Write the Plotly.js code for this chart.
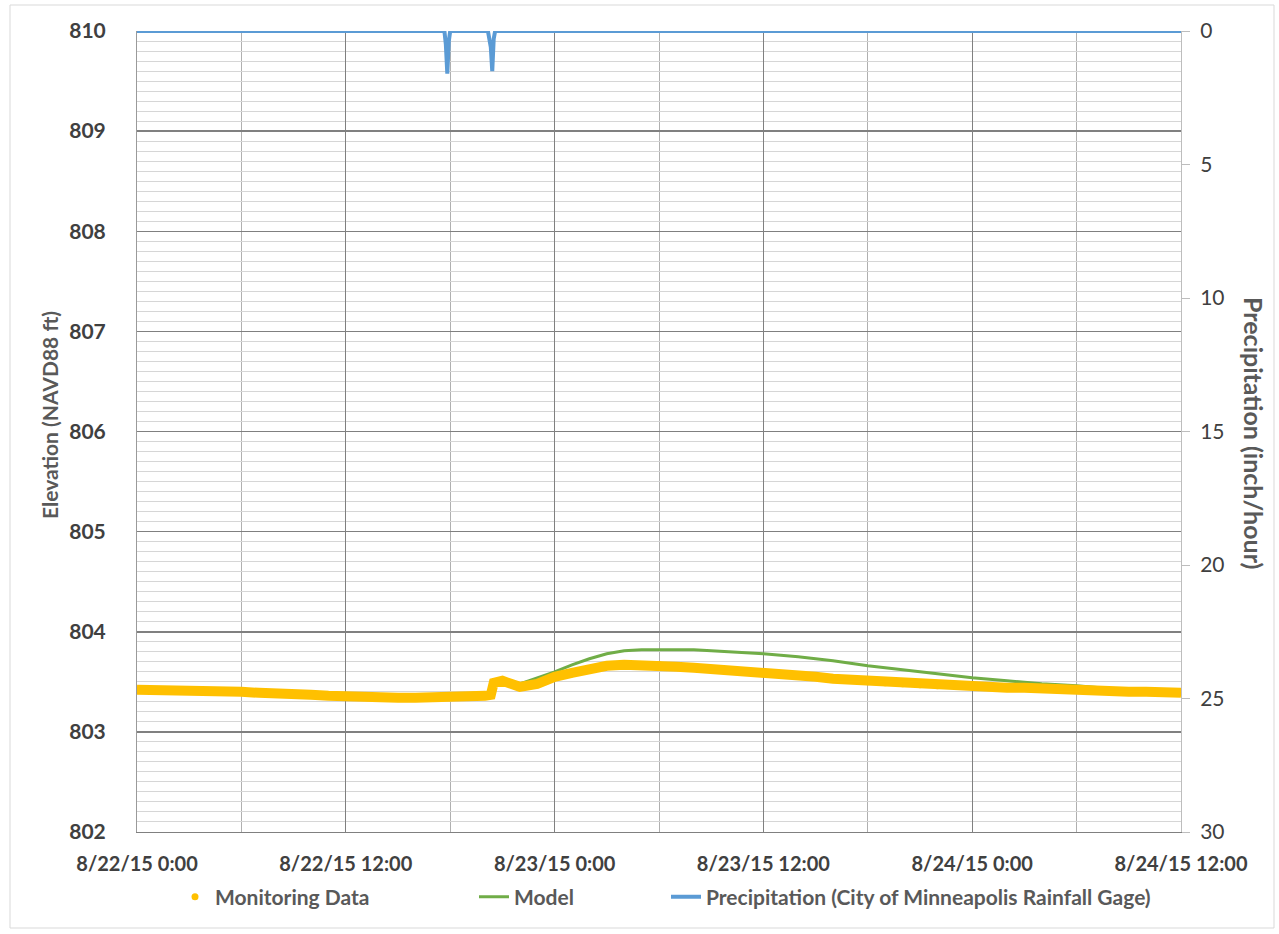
<!DOCTYPE html>
<html><head><meta charset="utf-8">
<script src="https://cdn.plot.ly/plotly-3.0.1.min.js"></script>
<style>html,body{margin:0;padding:0;background:#fff}</style>
</head><body><div id="chart" style="width:1279px;height:934px"></div>
<script>
// Monitoring data (elevation, ft NAVD88)
const monTimes = [
 '2015-08-22 00:00','2015-08-22 01:00','2015-08-22 02:00','2015-08-22 03:00','2015-08-22 04:00','2015-08-22 05:00',
 '2015-08-22 06:00','2015-08-22 07:00','2015-08-22 08:00','2015-08-22 09:00','2015-08-22 10:00','2015-08-22 11:00',
 '2015-08-22 12:00','2015-08-22 13:00','2015-08-22 14:00','2015-08-22 15:00','2015-08-22 16:00','2015-08-22 17:00',
 '2015-08-22 18:00','2015-08-22 19:00','2015-08-22 20:00','2015-08-22 20:20','2015-08-22 20:30','2015-08-22 21:00',
 '2015-08-22 21:30','2015-08-22 22:00','2015-08-22 23:00','2015-08-23 00:00','2015-08-23 01:00','2015-08-23 02:00',
 '2015-08-23 03:00','2015-08-23 04:00','2015-08-23 05:00','2015-08-23 06:00','2015-08-23 07:00','2015-08-23 08:00',
 '2015-08-23 09:00','2015-08-23 10:00','2015-08-23 11:00','2015-08-23 12:00','2015-08-23 13:00','2015-08-23 14:00',
 '2015-08-23 15:00','2015-08-23 16:00','2015-08-23 17:00','2015-08-23 18:00','2015-08-23 19:00','2015-08-23 20:00',
 '2015-08-23 21:00','2015-08-23 22:00','2015-08-23 23:00','2015-08-24 00:00','2015-08-24 01:00','2015-08-24 02:00',
 '2015-08-24 03:00','2015-08-24 04:00','2015-08-24 05:00','2015-08-24 06:00','2015-08-24 07:00','2015-08-24 08:00',
 '2015-08-24 09:00','2015-08-24 10:00','2015-08-24 11:00','2015-08-24 12:00'
];
const monValues = [
 803.42,803.42,803.42,803.41,803.41,803.40,
 803.40,803.39,803.39,803.38,803.37,803.36,
 803.35,803.35,803.35,803.34,803.34,803.34,
 803.34,803.36,803.36,803.37,803.49,803.51,
 803.49,803.45,803.48,803.55,803.59,803.63,
 803.66,803.67,803.67,803.67,803.65,803.64,
 803.63,803.62,803.60,803.59,803.58,803.56,
 803.55,803.53,803.52,803.50,803.49,803.48,
 803.47,803.46,803.46,803.45,803.45,803.44,
 803.44,803.43,803.43,803.43,803.42,803.40,
 803.40,803.40,803.39,803.39
];

// Model (elevation, ft NAVD88)
const modelTimes = [
 '2015-08-22 20:00','2015-08-22 20:20','2015-08-22 20:30','2015-08-22 21:00','2015-08-22 21:30','2015-08-22 22:00',
 '2015-08-22 23:00','2015-08-23 00:00','2015-08-23 01:00','2015-08-23 02:00','2015-08-23 03:00','2015-08-23 04:00',
 '2015-08-23 05:00','2015-08-23 06:00','2015-08-23 07:00','2015-08-23 08:00','2015-08-23 09:00','2015-08-23 10:00',
 '2015-08-23 11:00','2015-08-23 12:00','2015-08-23 14:00','2015-08-23 16:00','2015-08-23 18:00','2015-08-23 20:00',
 '2015-08-23 22:00','2015-08-24 00:00','2015-08-24 02:00','2015-08-24 04:00','2015-08-24 06:00','2015-08-24 08:00',
 '2015-08-24 10:00','2015-08-24 12:00'
];
const modelValues = [
 803.36,803.37,803.50,803.53,803.50,803.48,
 803.54,803.60,803.67,803.73,803.78,803.81,
 803.82,803.82,803.82,803.82,803.81,803.80,
 803.79,803.78,803.75,803.71,803.66,803.62,
 803.58,803.54,803.51,803.48,803.46,803.43,
 803.41,803.40
];

// Precipitation (inch/hour)
const precipTimes = [
 '2015-08-22 00:00','2015-08-22 17:40','2015-08-22 17:45','2015-08-22 17:50','2015-08-22 17:55','2015-08-22 18:00',
 '2015-08-22 20:10','2015-08-22 20:15','2015-08-22 20:20','2015-08-22 20:25','2015-08-22 20:30','2015-08-22 20:35',
 '2015-08-24 12:00'
];
const precipValues = [0,0,0.5,1.6,0.4,0,0,0.4,0.6,1.5,0.3,0,0];

const elevTicks = [802,803,804,805,806,807,808,809,810];
const precipTicks = [0,5,10,15,20,25,30];
const xTickVals = ['2015-08-22 00:00','2015-08-22 12:00','2015-08-23 00:00','2015-08-23 12:00','2015-08-24 00:00','2015-08-24 12:00'];
const xTickText = ['8/22/15 0:00','8/22/15 12:00','8/23/15 0:00','8/23/15 12:00','8/24/15 0:00','8/24/15 12:00'];

const FONT = 'Lato, "Open Sans", sans-serif';
const TXT = '#595959';

const traces = [
 {x: modelTimes, y: modelValues, type:'scatter', mode:'lines', name:'Model',
  line:{color:'#70AD47', width:3}, legend:'legend2'},
 {x: monTimes, y: monValues, type:'scatter', mode:'lines', name:'Monitoring Data',
  line:{color:'#FFC000', width:10}, showlegend:false, legendgroup:'mon'},
 {x: monTimes, y: monValues, type:'scatter', mode:'markers', name:'Monitoring Data',
  marker:{color:'#FFC000', size:7, symbol:'circle'}, legendgroup:'mon', legend:'legend'},
 {x: precipTimes, y: precipValues, type:'scatter', mode:'lines', name:'Precipitation (City of Minneapolis Rainfall Gage)',
  yaxis:'y2', line:{color:'#5B9BD5', width:4}, legend:'legend3'}
];

const legFont = {family: FONT, size: 21, color: TXT, weight: 'bold'};
const legY = -(897-832)/801;
const layout = {
 width:1279, height:934,
 margin:{l:137, r:98, t:31, b:102},
 paper_bgcolor:'#ffffff', plot_bgcolor:'#ffffff',
 font:{family: FONT, color: TXT},
 showlegend:true,
 xaxis:{type:'date', range:['2015-08-22 00:00','2015-08-24 12:00'],
  tickmode:'array', tickvals:xTickVals, ticktext:xTickText,
  showgrid:true, gridcolor:'#808080', gridwidth:1.3,
  minor:{dtick:21600000, tick0:'2015-08-22 00:00', showgrid:true, gridcolor:'#b0b0b0', gridwidth:1},
  zeroline:false, showline:true, linecolor:'#808080', linewidth:1.3,
  ticks:'', ticklabelstandoff:14,
  tickfont:{family: FONT, size:20, color:'#404040', weight:'bold'}},
 yaxis:{range:[802,810], tickmode:'array', tickvals:elevTicks,
  showgrid:true, gridcolor:'#808080', gridwidth:1.5,
  minor:{dtick:0.1, tick0:802, showgrid:true, gridcolor:'#d6d6d6', gridwidth:1},
  zeroline:false, showline:true, linecolor:'#9a9a9a', linewidth:1,
  ticks:'', ticklabelstandoff:26,
  tickfont:{family: FONT, size:21, color:'#404040', weight:'bold'}},
 yaxis2:{range:[30,0], overlaying:'y', side:'right', tickmode:'array', tickvals:precipTicks,
  showgrid:false, zeroline:false, showline:true, linecolor:'#bdbdbd', linewidth:1,
  ticks:'outside', ticklen:8, tickcolor:'#bdbdbd', tickwidth:1, ticklabelstandoff:6,
  tickfont:{family: FONT, size:21, color:'#404040'}},
 legend:{orientation:'h', x:(175-137)/1044, xanchor:'left', y:legY, yanchor:'middle',
  font:legFont, bgcolor:'rgba(0,0,0,0)'},
 legend2:{orientation:'h', x:(474-137)/1044, xanchor:'left', y:legY, yanchor:'middle',
  font:legFont, bgcolor:'rgba(0,0,0,0)'},
 legend3:{orientation:'h', x:(666-137)/1044, xanchor:'left', y:legY, yanchor:'middle',
  font:legFont, bgcolor:'rgba(0,0,0,0)'},
 annotations:[
  {text:'Elevation (NAVD88 ft)', xref:'paper', yref:'paper', x:(50-137)/1044, y:(832-415)/801,
   textangle:-90, showarrow:false, xanchor:'center', yanchor:'middle',
   font:{family: FONT, size:21, color: TXT, weight:'bold'}},
  {text:'Precipitation (inch/hour)', xref:'paper', yref:'paper', x:(1254-137)/1044, y:(832-433)/801,
   textangle:90, showarrow:false, xanchor:'center', yanchor:'middle',
   font:{family: FONT, size:25, color: TXT, weight:'bold'}}
 ],
 shapes:[
  {type:'rect', xref:'paper', yref:'paper', x0:(10-137)/1044, x1:(1274-137)/1044, y0:(832-928)/801, y1:(832-5)/801,
   line:{color:'#d9d9d9', width:1}, fillcolor:'rgba(0,0,0,0)', layer:'below'}
 ]
};

Plotly.newPlot('chart', traces, layout, {staticPlot:true, displayModeBar:false});
</script>
</body></html>
